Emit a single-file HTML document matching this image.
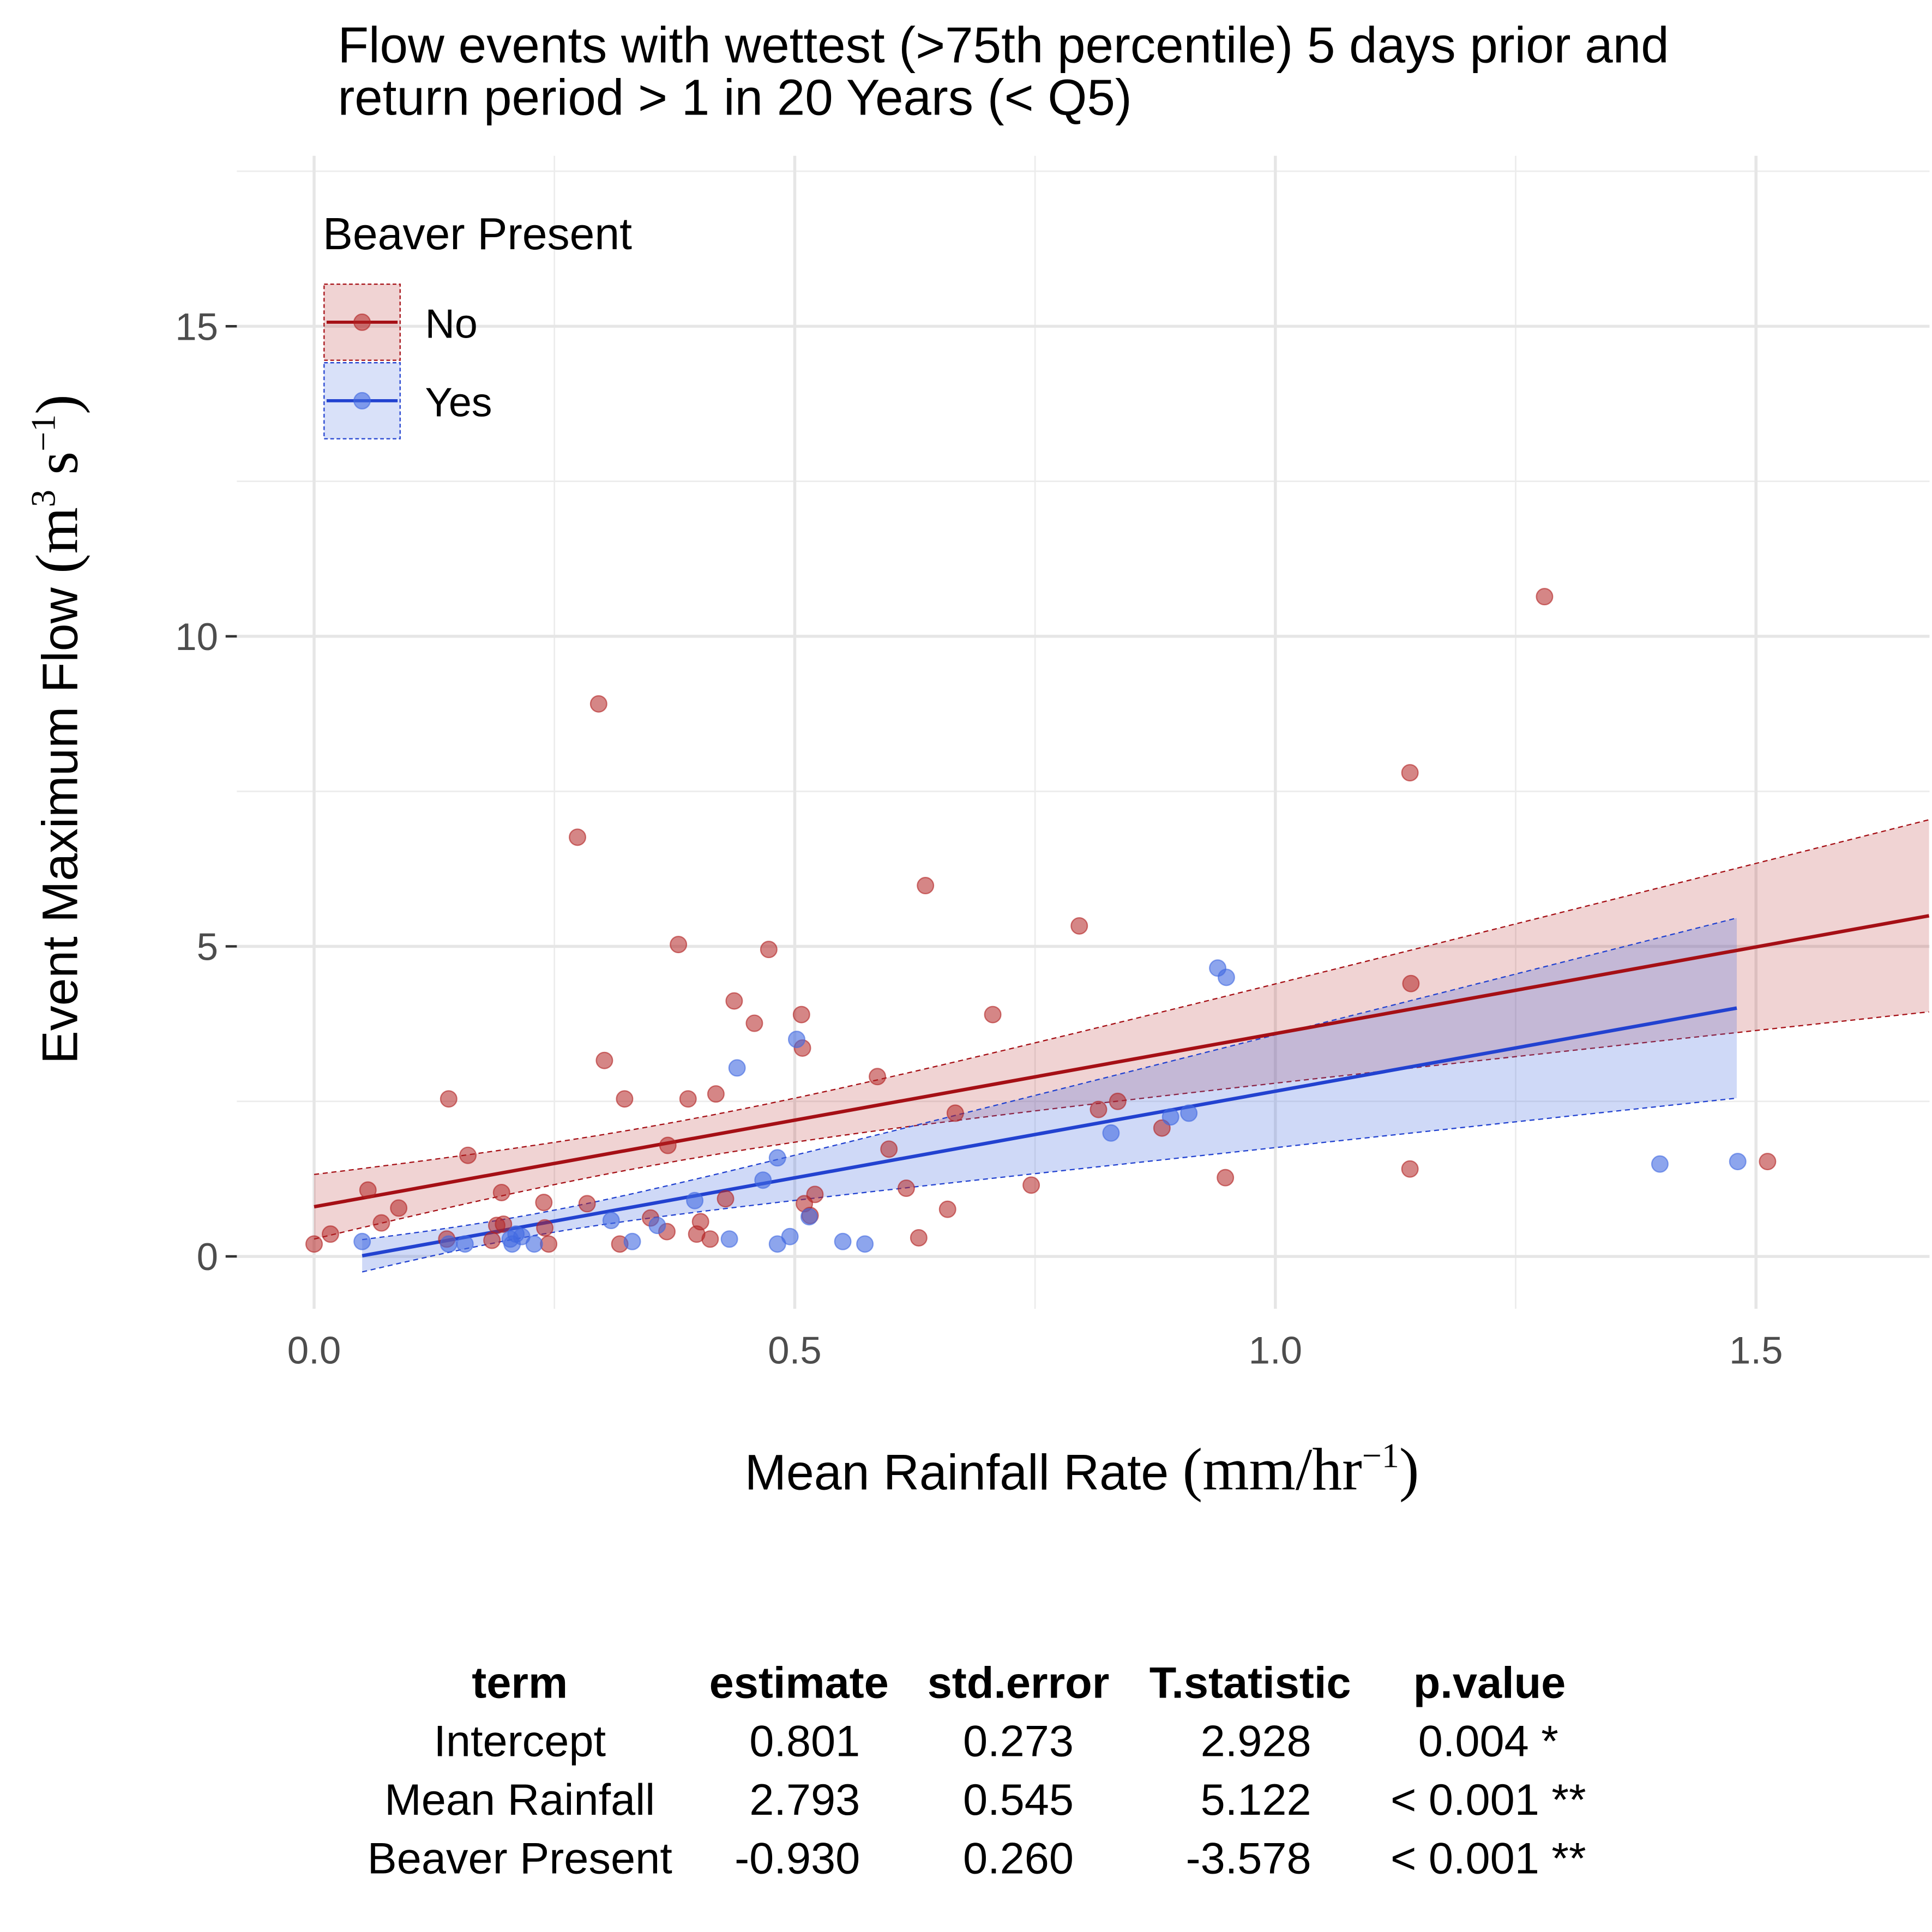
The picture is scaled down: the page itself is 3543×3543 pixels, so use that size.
<!DOCTYPE html>
<html><head><meta charset="utf-8"><style>
html,body{margin:0;padding:0;background:#fff}
svg{display:block}
text{font-family:"Liberation Sans",Arial,sans-serif}
</style></head><body>
<svg id="chart" width="3543" height="3543" viewBox="0 0 1550 1550" xmlns="http://www.w3.org/2000/svg">
<g>
<text x="271" y="50" font-size="40.5" fill="#000">Flow events with wettest (&gt;75th percentile) 5 days prior and</text>
<text x="271" y="92" font-size="40.5" fill="#000">return period &gt; 1 in 20 Years (&lt; Q5)</text>
</g>
<g id="grid"></g>
<g id="ribbons"></g>
<g id="lines"></g>
<g id="points"></g>
<g id="axes"></g>
<g transform="translate(62,585) rotate(-90)">
<text x="0" y="0" text-anchor="middle" font-size="40" fill="#000">Event Maximum Flow <tspan font-family="Liberation Serif,serif" font-size="48">  (m<tspan dy="-18" font-size="28">3</tspan><tspan dy="18"> s</tspan><tspan dy="-18" font-size="28">−1</tspan><tspan dy="18">)</tspan></tspan></text>
</g>
<g>
<text x="868" y="1195" text-anchor="middle" font-size="40" fill="#000">Mean Rainfall Rate <tspan font-family="Liberation Serif,serif" font-size="48"> (mm/hr<tspan dy="-18" font-size="28">−1</tspan><tspan dy="18">)</tspan></tspan></text>
</g>
<g>
<text x="259" y="200" font-size="36" fill="#000">Beaver Present</text>
<g>
<rect x="260" y="228" width="61" height="61" fill="rgba(178,34,34,0.2)" stroke="#a50f15" stroke-width="1" stroke-dasharray="3,2"/>
<line x1="262" y1="258.5" x2="319" y2="258.5" stroke="#a50f15" stroke-width="2.5"/>
<circle cx="290.5" cy="258.5" r="6.5" fill="rgba(178,34,34,0.55)" stroke="rgba(178,34,34,0.6)"/>
<text x="341" y="271" font-size="33">No</text>
</g>
<g>
<rect x="260" y="291" width="61" height="61" fill="rgba(65,105,225,0.2)" stroke="#2242d0" stroke-width="1" stroke-dasharray="3,2"/>
<line x1="262" y1="321.5" x2="319" y2="321.5" stroke="#2242d0" stroke-width="2.5"/>
<circle cx="290.5" cy="321.5" r="6.5" fill="rgba(65,105,225,0.6)" stroke="rgba(65,105,225,0.6)"/>
<text x="341" y="334" font-size="33">Yes</text>
</g>
</g>
<g font-size="35.5" fill="#000">
<g font-weight="bold">
<text x="417" y="1362" text-anchor="middle">term</text>
<text x="641" y="1362" text-anchor="middle">estimate</text>
<text x="817" y="1362" text-anchor="middle">std.error</text>
<text x="1003" y="1362" text-anchor="middle">T.statistic</text>
<text x="1195" y="1362" text-anchor="middle">p.value</text>
</g>
<g>
<text x="417" y="1409" text-anchor="middle">Intercept</text>
<text x="690" y="1409" text-anchor="end">0.801</text>
<text x="817" y="1409" text-anchor="middle">0.273</text>
<text x="1052" y="1409" text-anchor="end">2.928</text>
<text x="1194" y="1409" text-anchor="middle">0.004 *</text>
</g>
<g>
<text x="417" y="1456" text-anchor="middle">Mean Rainfall</text>
<text x="690" y="1456" text-anchor="end">2.793</text>
<text x="817" y="1456" text-anchor="middle">0.545</text>
<text x="1052" y="1456" text-anchor="end">5.122</text>
<text x="1194" y="1456" text-anchor="middle">&lt; 0.001 **</text>
</g>
<g>
<text x="417" y="1503" text-anchor="middle">Beaver Present</text>
<text x="690" y="1503" text-anchor="end">-0.930</text>
<text x="817" y="1503" text-anchor="middle">0.260</text>
<text x="1052" y="1503" text-anchor="end">-3.578</text>
<text x="1194" y="1503" text-anchor="middle">&lt; 0.001 **</text>
</g>
</g>
</svg>
<script>
const noX=[0.0,0.017,0.056,0.07,0.088,0.14,0.138,0.16,0.185,0.19,0.195,0.197,0.239,0.24,0.244,0.274,0.284,0.296,0.302,0.318,0.323,0.35,0.368,0.367,0.379,0.389,0.398,0.402,0.412,0.418,0.428,0.437,0.458,0.473,0.507,0.51,0.508,0.516,0.521,0.586,0.598,0.616,0.629,0.636,0.659,0.667,0.706,0.746,0.796,0.816,0.836,0.882,0.948,1.14,1.141,1.14,1.28,1.512];
const noY=[0.2,0.36,1.07,0.54,0.78,2.54,0.28,1.63,0.26,0.5,1.03,0.52,0.87,0.46,0.2,6.76,0.85,8.91,3.16,0.2,2.54,0.62,1.79,0.4,5.03,2.54,0.36,0.56,0.28,2.62,0.93,4.12,3.76,4.95,3.9,0.85,3.36,0.66,1.0,2.9,1.73,1.1,0.3,5.98,0.76,2.31,3.9,1.15,5.33,2.37,2.5,2.07,1.27,7.8,4.4,1.41,10.64,1.53];
const yesX=[0.05,0.14,0.157,0.204,0.206,0.21,0.216,0.229,0.309,0.331,0.357,0.396,0.432,0.44,0.467,0.482,0.482,0.495,0.502,0.515,0.55,0.573,0.829,0.891,0.91,0.94,0.949,1.4,1.481];
const yesY=[0.24,0.2,0.2,0.28,0.2,0.36,0.32,0.2,0.58,0.24,0.5,0.9,0.28,3.04,1.23,1.59,0.2,0.32,3.5,0.64,0.24,0.2,1.99,2.25,2.31,4.65,4.5,1.49,1.53];
const coefIntercept=0.801, coefSlope=2.793, coefBeaver=-0.930;
const noRange=[0,1.68], yesRange=[0.05,1.48];
const ciNo=[0.1,0.36,1.32], ciYes=[0.03,0.22,1.31]; // c, mean, k
const xTicks=[0,0.5,1.0,1.5], xTickLabels=["0.0","0.5","1.0","1.5"];
const yTicks=[0,5,10,15], yTickLabels=["0","5","10","15"];
const xMinor=[0.25,0.75,1.25], yMinor=[2.5,7.5,12.5,17.5];

const NS="http://www.w3.org/2000/svg";
const PL=190,PR=1548,PT=125,PB=1050;
const sx=v=>252+v*771.2, sy=v=>1008-v*49.75;
function mk(tag,attrs,parent){const e=document.createElementNS(NS,tag);for(const k in attrs)e.setAttribute(k,attrs[k]);parent.appendChild(e);return e;}
const grid=document.getElementById('grid');
xMinor.forEach(v=>{const l=mk('line',{x1:sx(v),x2:sx(v),y1:PT,y2:PB,stroke:'#ececec','stroke-width':1.2},grid);

});
yMinor.forEach(v=>{const l=mk('line',{x1:PL,x2:PR,y1:sy(v),y2:sy(v),stroke:'#ececec','stroke-width':1.2},grid);

});
xTicks.forEach(v=>{const l=mk('line',{x1:sx(v),x2:sx(v),y1:PT,y2:PB,stroke:'#e6e6e6','stroke-width':2.4},grid);

});
yTicks.forEach(v=>{const l=mk('line',{x1:PL,x2:PR,y1:sy(v),y2:sy(v),stroke:'#e6e6e6','stroke-width':2.4},grid);

});
const axes=document.getElementById('axes');
xTicks.forEach((v,i)=>{const t=mk('text',{x:sx(v),y:1094,'text-anchor':'middle','font-size':31,fill:'#4d4d4d'},axes);t.textContent=xTickLabels[i];

});
yTicks.forEach((v,i)=>{const t=mk('text',{x:175,y:sy(v)+11,'text-anchor':'end','font-size':31,fill:'#4d4d4d'},axes);t.textContent=yTickLabels[i];


const tk=mk('line',{x1:181,x2:190,y1:sy(v),y2:sy(v),stroke:'#333','stroke-width':2},axes);

});

function band(range,b0,ci,fill,stroke,name){
  const g=document.getElementById('ribbons');const n=40;const up=[],lo=[];
  for(let i=0;i<=n;i++){const x=range[0]+(range[1]-range[0])*i/n;const m=b0+coefSlope*x;const hw=Math.sqrt(ci[0]+ci[2]*(x-ci[1])**2);up.push([sx(x),sy(m+hw)]);lo.push([sx(x),sy(m-hw)]);}
  const p=mk('path',{d:'M'+up.map(a=>a.join(',')).join('L')+'L'+lo.slice().reverse().map(a=>a.join(',')).join('L')+'Z',fill:fill},g);
  
  
  [up,lo].forEach(arr=>{const l=mk('path',{d:'M'+arr.map(a=>a.join(',')).join('L'),fill:'none',stroke:stroke,'stroke-width':1,'stroke-dasharray':'4,3'},g);
  
  });
  const lg=document.getElementById('lines');
  const ln=mk('line',{x1:sx(range[0]),y1:sy(b0+coefSlope*range[0]),x2:sx(range[1]),y2:sy(b0+coefSlope*range[1]),stroke:stroke,'stroke-width':2.8},lg);
  
  
}
band(noRange,coefIntercept,ciNo,'rgba(178,34,34,0.2)','#a50f15','no');
band(yesRange,coefIntercept+coefBeaver,ciYes,'rgba(65,105,225,0.25)','#2242d0','yes');
const pg=document.getElementById('points');
noX.forEach((x,i)=>{const c=mk('circle',{cx:sx(x),cy:sy(noY[i]),r:6.5,fill:'rgba(178,34,34,0.55)',stroke:'rgba(178,34,34,0.6)','stroke-width':1},pg);

});
yesX.forEach((x,i)=>{const c=mk('circle',{cx:sx(x),cy:sy(yesY[i]),r:6.5,fill:'rgba(65,105,225,0.6)',stroke:'rgba(65,105,225,0.6)','stroke-width':1},pg);

});
</script>
</body></html>
